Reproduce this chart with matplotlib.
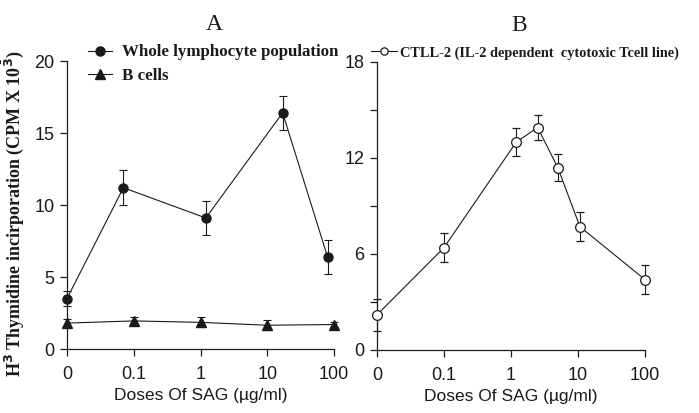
import matplotlib
matplotlib.use('Agg')
import matplotlib.pyplot as plt
import numpy as np

## data
tick_doses = [0, 0.1, 1, 10, 100]
tick_labels = ['0', '0.1', '1', '10', '100']

# panel A
whole_dose = [0, 0.07, 1.2, 17, 80]
whole_cpm = [3.5, 11.2, 9.1, 16.4, 6.4]
whole_err = [0.5, 1.2, 1.2, 1.2, 1.2]

bcell_dose = [0, 0.1, 1, 10, 100]
bcell_cpm = [1.8, 1.95, 1.85, 1.65, 1.7]
bcell_err = [0.3, 0.3, 0.35, 0.35, 0.2]

# panel B
ctll_dose = [0, 0.1, 1.2, 2.5, 5, 10.7, 100]
ctll_cpm = [2.2, 6.4, 13.0, 13.9, 11.4, 7.7, 4.4]
ctll_err = [1.0, 0.9, 0.9, 0.8, 0.85, 0.9, 0.9]


def pos(dose):
    # 0 sits one decade left of 0.1 on the axis
    dose = np.asarray(dose, dtype=float)
    out = np.zeros_like(dose)
    m = dose > 0
    out[m] = np.log10(dose[m]) + 2
    return out


ink = '#1a1a1a'
serif = 'Liberation Serif'
sans = 'Liberation Sans'

plt.rcParams['font.family'] = sans
plt.rcParams['axes.linewidth'] = 0.9

fig = plt.figure(figsize=(6.99, 4.13), dpi=100)
axA = fig.add_axes([67/699, 1-349/413, (334-67)/699, (349-61)/413])
axB = fig.add_axes([377/699, 1-350/413, (645-377)/699, (350-62)/413])


def style(ax):
    for s in ['top', 'right']:
        ax.spines[s].set_visible(False)
    for s in ['left', 'bottom']:
        ax.spines[s].set_color(ink)
    ax.set_xlim(0, 4)
    ax.set_xticks(pos(tick_doses))
    ax.set_xticklabels(tick_labels)
    ax.tick_params(axis='both', direction='out', length=5, width=0.9,
                   colors=ink, labelsize=13, pad=4)
    ax.tick_params(axis='x', pad=7)
    ax.set_xlabel('Doses Of SAG (µg/ml)', fontsize=12.5, color=ink, labelpad=4)


style(axA)
style(axB)

# panel A
lw = 0.8
axA.errorbar(pos(whole_dose), whole_cpm, yerr=whole_err, color=ink, lw=lw,
             marker='o', ms=6.5, mfc=ink, mec=ink, capsize=3, elinewidth=lw,
             capthick=lw, clip_on=False, zorder=3,
             label='Whole lymphocyte population')
axA.errorbar(pos(bcell_dose), bcell_cpm, yerr=bcell_err, color=ink, lw=lw,
             marker='^', ms=7, mfc=ink, mec=ink, capsize=3, elinewidth=lw,
             capthick=lw, clip_on=False, zorder=3, label='B cells')
axA.set_ylim(0, 20)
axA.set_yticks([0, 5, 10, 15, 20])
axA.set_ylabel(r'H$^{\mathbf{3}}$ Thymidine incirporation (CPM X 10$^{\mathbf{\bar{3}}}$)',
               family=serif, fontweight='bold', fontsize=13, color=ink)
axA.yaxis.set_label_coords(-0.155, 0.47)
axA.set_title('A', family=serif, fontsize=17, color=ink, pad=22, x=0.55)
hA, lA = axA.get_legend_handles_labels()
hA = [h[0] for h in hA]
legA = fig.legend(hA, lA, loc='upper left', bbox_to_anchor=(80/699, 1-36/413),
                  frameon=False, handlelength=1.4, handletextpad=0.6,
                  labelspacing=0.45, borderpad=0,
                  prop={'family': serif, 'weight': 'bold', 'size': 12.2})
for t in legA.get_texts():
    t.set_color(ink)

# panel B
axB.errorbar(pos(ctll_dose), ctll_cpm, yerr=ctll_err, color=ink, lw=lw,
             marker='o', ms=7, mfc='white', mec=ink, mew=0.9, capsize=3,
             elinewidth=lw, capthick=lw, clip_on=False, zorder=3,
             label='CTLL-2 (IL-2 dependent  cytotoxic Tcell line)')
axB.set_ylim(0, 18)
axB.set_yticks([0, 6, 12, 18])
axB.set_yticks([3, 9, 15], minor=True)
axB.tick_params(axis='y', which='minor', direction='out', length=5, width=0.9, colors=ink)
axB.set_title('B', family=serif, fontsize=17, color=ink, pad=22, x=0.53)
hB, lB = axB.get_legend_handles_labels()
hB = [h[0] for h in hB]
legB = fig.legend(hB, lB, loc='upper left', bbox_to_anchor=(364/699, 1-39/413),
                  frameon=False, handlelength=1.8, handletextpad=0.2, borderpad=0,
                  markerscale=0.75,
                  prop={'family': serif, 'weight': 'bold', 'size': 10.3})
for t in legB.get_texts():
    t.set_color(ink)

fig.savefig('out.png', dpi=100)
